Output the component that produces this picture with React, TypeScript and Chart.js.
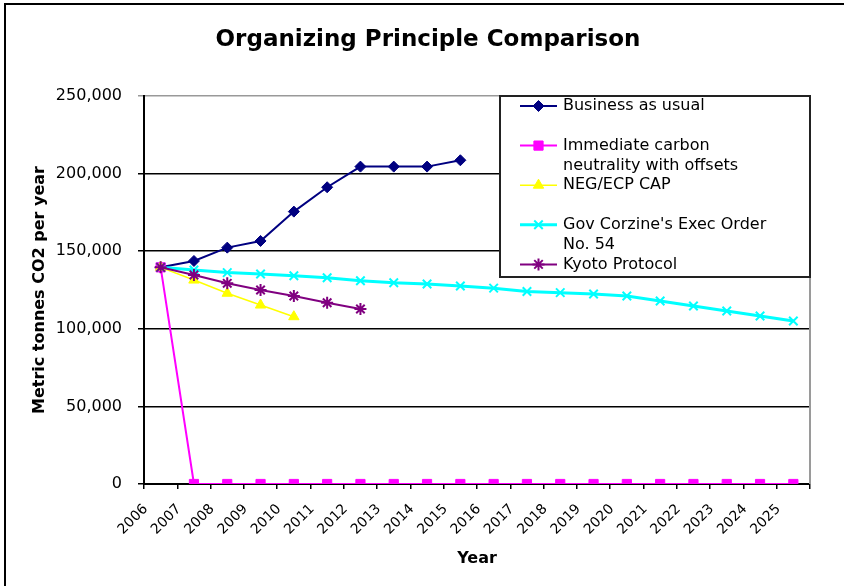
import React, { useEffect, useRef } from 'react';
import { Chart, registerables } from 'chart.js';
import { drawPoint } from 'chart.js/helpers';

Chart.register(...registerables);

const years = ['2006', '2007', '2008', '2009', '2010', '2011', '2012', '2013', '2014', '2015', '2016', '2017', '2018', '2019', '2020', '2021', '2022', '2023', '2024', '2025'];

const seriesLabels = [
  'Business as usual',
  'Immediate carbon neutrality with offsets',
  'NEG/ECP CAP',
  "Gov Corzine's Exec Order No. 54",
  'Kyoto Protocol',
];

const legendText = [
  ['Business as usual'],
  ['Immediate carbon', 'neutrality with offsets'],
  ['NEG/ECP CAP'],
  ["Gov Corzine's Exec Order", 'No. 54'],
  ['Kyoto Protocol'],
];

const businessAsUsual = [139600, 143700, 152300, 156600, 175500, 191200, 204500, 204500, 204500, 208600];
const carbonNeutral = [139600, 0, 0, 0, 0, 0, 0, 0, 0, 0, 0, 0, 0, 0, 0, 0, 0, 0, 0, 0];
const negEcpCap = [139600, 131400, 122900, 115300, 107800];
const govCorzine = [139600, 137900, 136200, 135300, 134200, 132900, 131000, 129700, 128900, 127600, 126200, 124000, 123300, 122400, 121100, 117900, 114700, 111500, 108200, 105000];
const kyoto = [139600, 134700, 129300, 125000, 121100, 116800, 112800];

const yMin = 0;
const yMax = 250000;
const yStep = 50000;

const titleText = 'Organizing Principle Comparison';
const yTitle = 'Metric tonnes CO2 per year';
const xTitle = 'Year';

const FONT = "'DejaVu Sans', Verdana, sans-serif";

const framePlugin = {
  id: 'frameAndLegend',
  beforeDraw(chart: any) {
    const ctx = chart.ctx;
    ctx.save();
    ctx.fillStyle = '#ffffff';
    ctx.fillRect(0, 0, chart.width, chart.height);
    ctx.strokeStyle = '#000';
    ctx.lineWidth = 2;
    ctx.beginPath();
    ctx.moveTo(5, chart.height);
    ctx.lineTo(5, 4);
    ctx.lineTo(chart.width, 4);
    ctx.stroke();
    ctx.restore();
  },
  afterDraw(chart: any) {
    const ctx = chart.ctx;
    const area = chart.chartArea;
    ctx.save();
    // chart title
    ctx.fillStyle = '#000';
    ctx.font = `bold 23px ${FONT}`;
    ctx.textAlign = 'center';
    ctx.textBaseline = 'middle';
    ctx.fillText(titleText, 428, 40);

    // plot area right border
    ctx.strokeStyle = '#9a9a9a';
    ctx.lineWidth = 2;
    ctx.beginPath();
    ctx.moveTo(area.right, area.top);
    ctx.lineTo(area.right, area.bottom);
    ctx.stroke();

    // legend box
    const l = 500, t = 96, r = area.right, b = 277;
    ctx.fillStyle = '#fff';
    ctx.fillRect(l, t, r - l, b - t);
    ctx.strokeStyle = '#222';
    ctx.lineWidth = 2;
    ctx.strokeRect(l, t, r - l, b - t);

    const rowH = 19.8;
    const firstY = 106;
    const slots = [0, 2, 4, 6, 8];
    ctx.font = `16px ${FONT}`;
    ctx.textBaseline = 'middle';
    ctx.textAlign = 'left';
    chart.data.datasets.forEach((ds: any, i: number) => {
      const y = firstY + slots[i] * rowH;
      ctx.strokeStyle = ds.borderColor;
      ctx.lineWidth = ds.borderWidth;
      ctx.beginPath();
      ctx.moveTo(520, y);
      ctx.lineTo(557, y);
      ctx.stroke();
      ctx.fillStyle = ds.pointBackgroundColor;
      ctx.strokeStyle = ds.pointBorderColor;
      ctx.lineWidth = ds.pointBorderWidth;
      drawPoint(ctx, { pointStyle: ds.pointStyle, rotation: 0, radius: ds.pointRadius, borderWidth: ds.pointBorderWidth }, 538.5, y);
      ctx.fillStyle = '#000';
      (legendText[i] || []).forEach((line: string, j: number) => {
        ctx.fillText(line, 563, y + j * rowH);
      });
    });
    ctx.restore();
  },
};

function mkDataset(label: string, data: number[], color: string, lineWidth: number, pointStyle: string, radius: number, pbw: number, order: number) {
  return {
    label,
    data,
    borderColor: color,
    backgroundColor: color,
    borderWidth: lineWidth,
    pointStyle,
    pointRadius: radius,
    pointBackgroundColor: color,
    pointBorderColor: color,
    pointBorderWidth: pbw,
    tension: 0,
    fill: false,
    order,
  };
}

export default function App() {
  const ref = useRef<HTMLCanvasElement | null>(null);
  useEffect(() => {
    if (!ref.current) return;
    const chart = new Chart(ref.current, {
      type: 'line',
      data: {
        labels: years,
        datasets: [
          mkDataset(seriesLabels[0], businessAsUsual, '#000080', 2, 'rectRot', 5.5, 1, 5),
          mkDataset(seriesLabels[1], carbonNeutral, '#FF00FF', 2, 'rect', 6.5, 1, 4),
          mkDataset(seriesLabels[2], negEcpCap, '#FFFF00', 1.5, 'triangle', 6, 1, 3),
          mkDataset(seriesLabels[3], govCorzine, '#00FFFF', 3, 'crossRot', 6, 2, 2),
          mkDataset(seriesLabels[4], kyoto, '#800080', 2, 'star', 6, 2, 1),
        ] as any,
      },
      plugins: [framePlugin],
      options: {
        responsive: false,
        animation: false,
        events: [],
        layout: { padding: { left: 0, right: 34, top: 96, bottom: 0 } },
        plugins: {
          legend: { display: false },
          tooltip: { enabled: false },
          title: { display: false },
        },
        scales: {
          x: {
            type: 'category',
            offset: true,
            grid: { offset: true, drawOnChartArea: false, drawTicks: true, tickLength: 5, color: '#000', lineWidth: 1.5 },
            border: { color: '#000', width: 2 },
            ticks: {
              color: '#000',
              font: { family: FONT, size: 14 },
              minRotation: 45,
              maxRotation: 45,
              autoSkip: false,
              padding: 12,
              labelOffset: -15,
            },
            title: {
              display: true,
              text: xTitle,
              color: '#000',
              font: { family: FONT, size: 16, weight: 'bold' },
              padding: { top: 0, bottom: 18 },
            },
            afterFit(scale: any) { scale.height = 102; },
          },
          y: {
            min: yMin,
            max: yMax,
            ticks: {
              stepSize: yStep,
              color: '#000',
              font: { family: FONT, size: 16 },
              padding: 16,
              callback: (v: any) => Number(v).toLocaleString('en-US'),
            },
            grid: {
              color: (c: any) => (c.tick && c.tick.value === yMax ? '#999' : '#000'),
              lineWidth: 1.5,
              tickLength: 6,
              drawTicks: true,
            },
            border: { color: '#000', width: 2 },
            title: {
              display: true,
              text: yTitle,
              color: '#000',
              font: { family: FONT, size: 16, weight: 'bold' },
              padding: { top: 30, bottom: 0 },
            },
            afterFit(scale: any) { scale.width = 144; },
          },
        },
      } as any,
    });
    return () => chart.destroy();
  }, []);
  return (
    <div style={{ position: 'absolute', left: 0, top: 0, width: 844, height: 586 }}>
      <canvas ref={ref} width={844} height={586} />
    </div>
  );
}
